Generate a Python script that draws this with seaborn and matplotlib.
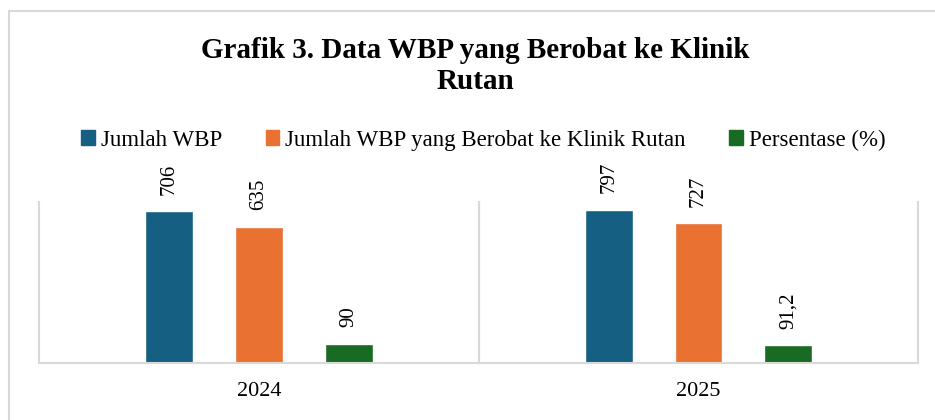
import pandas as pd
import matplotlib
matplotlib.use("Agg")
import matplotlib.pyplot as plt
import matplotlib.patches as mpatches
import seaborn as sns

# data
years = ["2024", "2025"]
series = ["Jumlah WBP", "Jumlah WBP yang Berobat ke Klinik Rutan", "Persentase (%)"]
jumlah_wbp = [706, 797]
jumlah_berobat = [635, 727]
persentase = [90, 91.2]
colors = ["#156082", "#E97132", "#196B24"]

rows = []
for i, th in enumerate(years):
    for s, v in zip(series, [jumlah_wbp[i], jumlah_berobat[i], persentase[i]]):
        rows.append({"Tahun": th, "Seri": s, "Nilai": v})
df = pd.DataFrame(rows)

sns.set_style("white")
plt.rcParams["font.family"] = ["Liberation Serif", "DejaVu Serif"]
plt.rcParams["text.color"] = "black"
plt.rcParams["xtick.color"] = "black"

fig = plt.figure(figsize=(9.35, 4.2), dpi=100)
ax1 = fig.add_axes([39 / 935, 57 / 420, 440 / 935, 161 / 420])
ax2 = fig.add_axes([479 / 935, 57 / 420, 439 / 935, 161 / 420])

grid = "#d9d9d9"
headroom = [1.062, 1.052]
for ax, th, hr in zip([ax1, ax2], years, headroom):
    sub = df[df["Tahun"] == th]
    sns.barplot(data=sub, x="Tahun", y="Nilai", hue="Seri", hue_order=series,
                palette=colors, saturation=1, width=0.614, gap=0.467,
                legend=False, ax=ax)
    for cont in ax.containers:
        labels = [f"{b.get_height():g}".replace(".", ",") for b in cont]
        ax.bar_label(cont, labels=labels, rotation=90, padding=12, fontsize=15,
                     color="black")
    ax.set_ylim(0, sub["Nilai"].max() * hr)
    ax.set_xlim(-0.5, 0.5)
    ax.set_xlabel("")
    ax.set_ylabel("")
    ax.set_yticks([])
    ax.tick_params(axis="x", length=0, pad=14, labelsize=16, labelcolor="black")
    ax.spines["top"].set_visible(False)
    for sp in ["left", "right", "bottom"]:
        ax.spines[sp].set_color(grid)
        ax.spines[sp].set_linewidth(1.5)
    ax.patch.set_alpha(0)

# chart border
fig.patches.append(mpatches.Rectangle((9 / 935, -0.1), 1.2, 1.1 - 11 / 420,
                                      transform=fig.transFigure, fill=False,
                                      edgecolor=grid, linewidth=1.5))

fig.text(0.508, 1 - 66 / 420, "Grafik 3. Data WBP yang Berobat ke Klinik\nRutan",
         ha="center", va="center", fontsize=21, fontweight="bold",
         linespacing=1.15, color="black")

handles = [mpatches.Patch(color=c, label=s) for c, s in zip(colors, series)]
fig.legend(handles=handles, loc="center", bbox_to_anchor=(0.517, 1 - 140 / 420),
           ncol=3, frameon=False, fontsize=16.5, handlelength=0.6, handleheight=0.6,
           handletextpad=0.25, columnspacing=1.9, labelcolor="black")

fig.savefig("out.png", dpi=100)
